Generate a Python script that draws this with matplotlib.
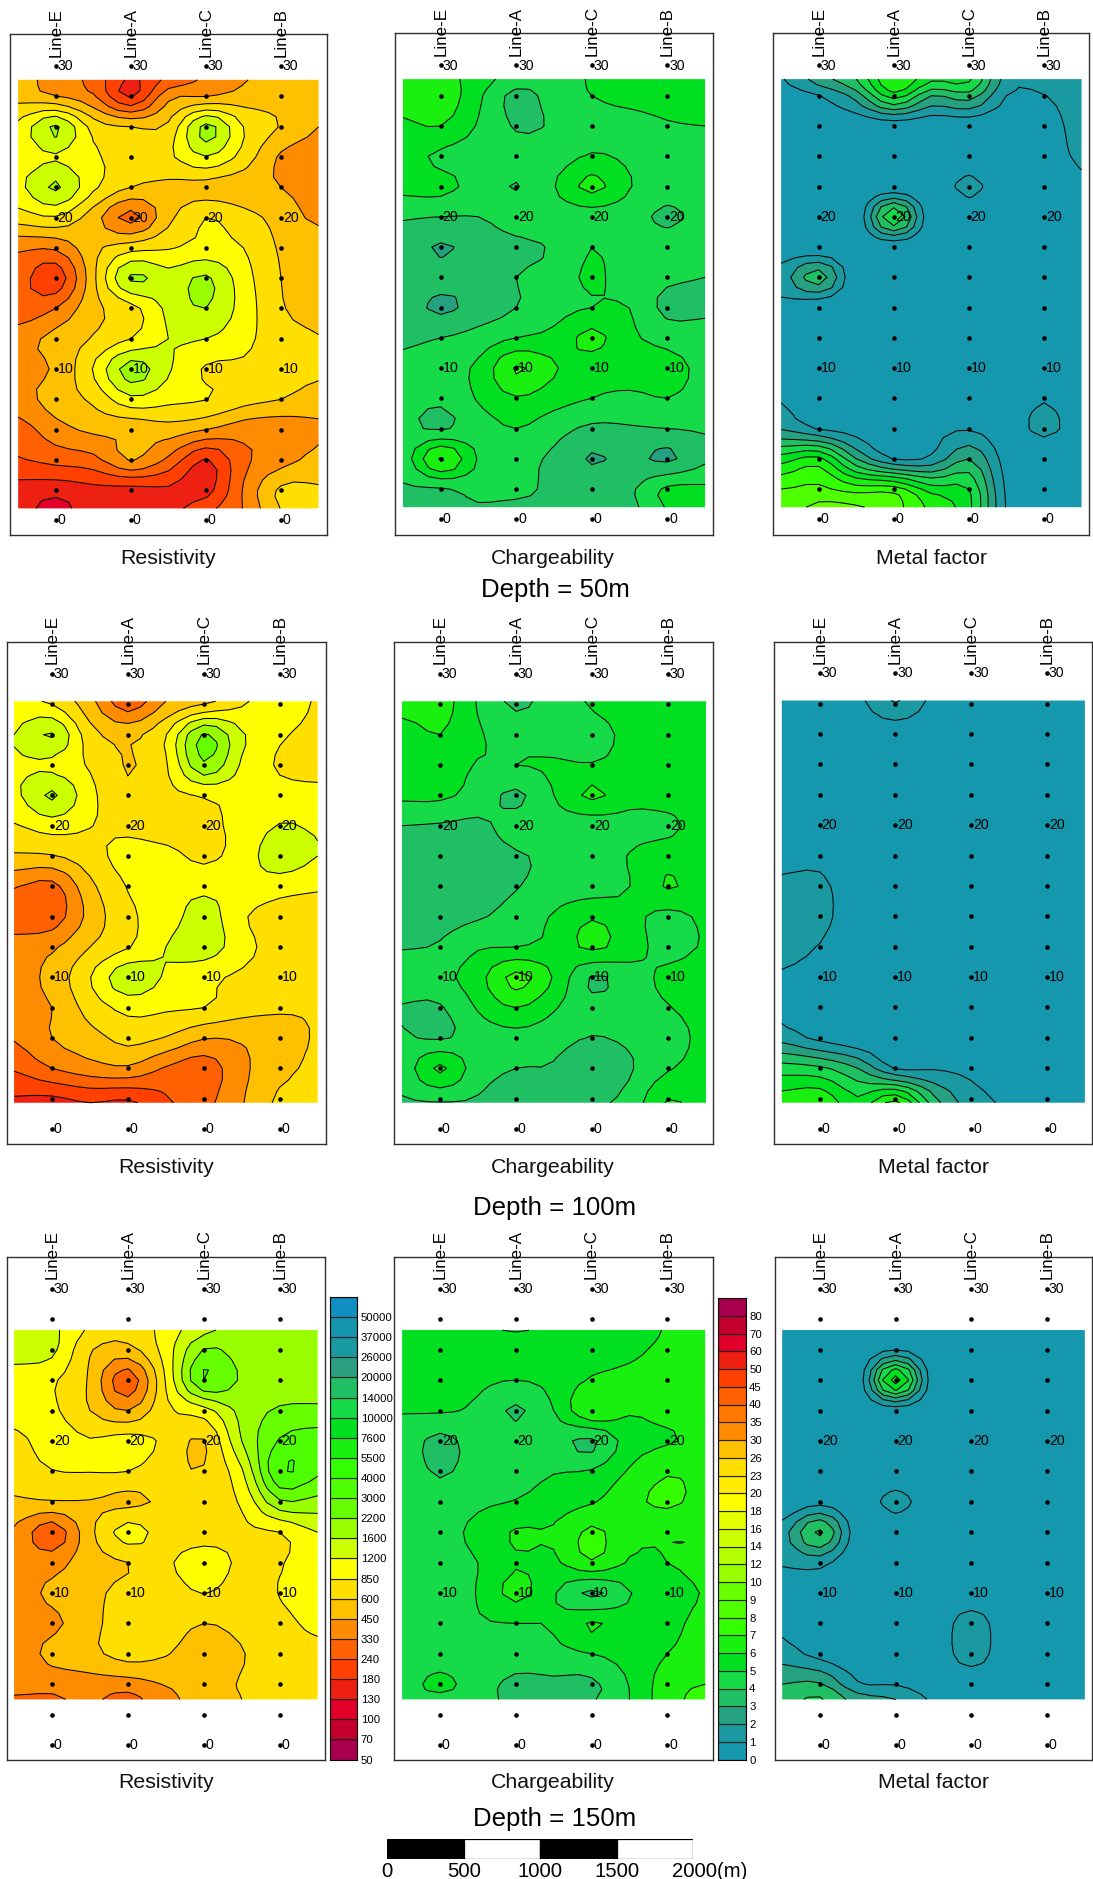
#! /usr/bin/env python3
import numpy as np
import matplotlib
matplotlib.use('Agg')
import matplotlib.pyplot as plt

plt.rcParams['font.family'] = ['Liberation Sans', 'DejaVu Sans']

W, H = 1093, 1879

lines = ['Line-E', 'Line-A', 'Line-C', 'Line-B']
grid_x = [-0.5, 0, 0.5, 1, 1.5, 2, 2.5, 3, 3.5]
stations = list(range(0, 31, 2))

rows_50 = [29.1, 28, 26, 24, 22, 20, 18, 16, 14, 12, 10, 8, 6, 4, 2, 0.8]
rows_100 = [28.2, 26, 24, 22, 20, 18, 16, 14, 12, 10, 8, 6, 4, 1.73]
rows_150 = [27.3, 26, 24, 22, 20, 18, 16, 14, 12, 10, 8, 6, 4, 3]

res_levels = [50, 70, 100, 130, 180, 240, 330, 450, 600, 850, 1200, 1600, 2200, 3000,
              4000, 5500, 7600, 10000, 14000, 20000, 26000, 37000, 50000, 70000]
res_labels = res_levels[:-1]
res_colors = ['#A8004F', '#C4002F', '#E0002A', '#EE2012', '#FF4000', '#FF6000', '#FF8C00', '#FFC000',
              '#FFDF00', '#FFFF00', '#CCFF00', '#99FF00', '#66FF00', '#4DFF00', '#33FF00', '#1AF010',
              '#00DF20', '#16DA48', '#20BF64', '#2BA080', '#1A9AA0', '#1595AD', '#0F90C0']

chg_levels = [0, 1, 2, 3, 4, 5, 6, 7, 8, 9, 10, 12, 14, 16, 18, 20, 23, 26, 30, 35, 40, 45,
              50, 60, 70, 80, 100]
chg_labels = chg_levels[:-1]
chg_colors = ['#1598AE', '#1A9AA0', '#25A080', '#20BF64', '#16DA48', '#00DF20', '#1AF010', '#33FF00',
              '#4DFF00', '#66FF00', '#99FF00', '#B3FF00', '#CCFF00', '#E6FF00', '#FFFF00', '#FFEC00',
              '#FFDF00', '#FFC000', '#FF8C00', '#FF7800', '#FF6000', '#FF4000', '#EE2012', '#E0002A',
              '#C4002F', '#A8004F']

res_50 = [
    [500, 400, 300, 170, 270, 350, 440, 520, 520],
    [550, 460, 350, 175, 420, 450, 520, 540, 520],
    [950, 1700, 750, 600, 650, 1800, 850, 590, 450],
    [1000, 1150, 900, 750, 800, 1180, 750, 430, 400],
    [1100, 1700, 920, 600, 560, 540, 500, 450, 400],
    [720, 820, 520, 300, 560, 850, 700, 540, 420],
    [350, 350, 560, 750, 830, 950, 850, 580, 560],
    [280, 200, 560, 1700, 1350, 1700, 1000, 600, 520],
    [270, 330, 560, 750, 1300, 1600, 1050, 620, 560],
    [400, 500, 620, 850, 1200, 1200, 950, 700, 610],
    [420, 470, 870, 1900, 1250, 820, 800, 720, 650],
    [400, 520, 650, 1100, 950, 860, 700, 600, 530],
    [290, 400, 480, 480, 530, 450, 380, 370, 430],
    [235, 270, 300, 460, 310, 175, 310, 400, 500],
    [160, 150, 165, 160, 170, 160, 340, 650, 630],
    [150, 120, 160, 170, 165, 220, 335, 610, 630],
]
chg_50 = [
    [6.5, 6.4, 5.5, 4.5, 4.5, 5.1, 5.3, 5.4, 5.4],
    [6.5, 6.7, 5.2, 3.7, 4.4, 5.0, 5.3, 5.4, 5.4],
    [5.8, 6.0, 4.9, 3.9, 4.1, 4.5, 4.6, 4.9, 5.0],
    [5.4, 4.8, 4.5, 4.4, 4.5, 5.1, 4.8, 4.5, 4.6],
    [5.3, 5.3, 4.6, 3.95, 4.95, 6.3, 5.05, 4.5, 4.5],
    [4.1, 4.0, 4.0, 4.4, 4.4, 4.5, 4.4, 3.8, 4.4],
    [3.5, 2.9, 3.4, 3.8, 4.1, 4.99, 4.5, 4.5, 4.5],
    [3.5, 3.4, 3.4, 4.0, 4.3, 5.2, 4.4, 4.2, 4.0],
    [3.5, 2.8, 3.4, 4.0, 4.6, 5.0, 4.99, 3.7, 3.8],
    [3.8, 4.0, 4.4, 5.0, 5.3, 6.3, 5.2, 4.7, 4.5],
    [4.3, 4.6, 5.2, 7.1, 6.1, 5.4, 5.4, 5.3, 4.8],
    [4.4, 4.2, 5.1, 5.9, 5.4, 5.0, 4.8, 5.0, 4.6],
    [4.2, 3.9, 4.5, 5.0, 4.4, 3.8, 3.9, 4.0, 4.1],
    [4.4, 7.1, 4.9, 4.4, 3.8, 2.9, 3.3, 2.8, 3.8],
    [3.9, 3.9, 4.4, 4.4, 3.7, 3.7, 3.8, 5.2, 5.2],
    [3.8, 3.7, 3.9, 3.7, 3.7, 3.7, 3.7, 5.1, 5.4],
]
met_50 = [
    [0.9, 2.5, 4, 7, 5.2, 5.2, 1.5, 1.2, 1.2],
    [0.5, 0.95, 2.4, 5.5, 3, 3.5, 1, 0.98, 1.3],
    [0.2, 0.2, 0.2, 0.2, 0.2, 0.2, 0.2, 0.6, 1.3],
    [0.2, 0.2, 0.2, 0.2, 0.2, 0.2, 0.2, 0.4, 1.2],
    [0.2, 0.2, 0.2, 0.0, 0.2, 1.3, 0.2, 0.2, 0.7],
    [0.2, 0.2, 0.0, 5.0, 0.0, 0.2, 0.2, 0.2, 0.2],
    [0.4, 0.0, 0.2, 0.0, 0.2, 0.2, 0.2, 0.2, 0.2],
    [1.4, 3.6, 0.0, 0.2, 0.2, 0.2, 0.2, 0.2, 0.2],
    [0.7, 0.0, 0.2, 0.2, 0.2, 0.2, 0.2, 0.2, 0.2],
    [0.2, 0.2, 0.2, 0.2, 0.2, 0.2, 0.2, 0.2, 0.2],
    [0.2, 0.2, 0.2, 0.2, 0.2, 0.2, 0.2, 0.0, 0.2],
    [0.9, 0.3, 0.2, 0.2, 0.2, 0.2, 0.2, 0.9, 0.2],
    [1.9, 0.9, 0.5, 0.3, 0.7, 0.9, 0.4, 1.3, 0.4],
    [5.5, 6.3, 3, 0.95, 1.2, 3, 0.5, 0, 0.2],
    [8, 8.2, 7.5, 7.5, 5.5, 5, 0.8, 0, 0.1],
    [8.5, 9.2, 9.1, 8.4, 6.7, 5.3, 0.9, 0, 0.1],
]

res_100 = [
    [950, 800, 500, 270, 450, 550, 800, 1050, 820],
    [1200, 1650, 700, 560, 840, 2300, 1250, 900, 790],
    [1150, 1100, 820, 590, 820, 2100, 1150, 820, 720],
    [1100, 1700, 950, 640, 780, 880, 1000, 1000, 1000],
    [830, 1000, 860, 780, 730, 790, 950, 1220, 1150],
    [580, 590, 750, 980, 950, 800, 1000, 1450, 1200],
    [340, 300, 560, 870, 1050, 1100, 1100, 1000, 900],
    [270, 280, 500, 800, 1000, 1400, 900, 720, 720],
    [390, 430, 600, 830, 1200, 1400, 1000, 720, 720],
    [400, 500, 840, 1500, 1150, 950, 800, 720, 720],
    [400, 450, 700, 950, 900, 850, 700, 630, 620],
    [340, 450, 540, 680, 590, 460, 470, 540, 620],
    [250, 330, 400, 430, 320, 280, 420, 560, 640],
    [170, 160, 180, 170, 230, 300, 440, 650, 640],
]
chg_100 = [
    [6.5, 6.5, 4.9, 3.8, 4.5, 5.1, 5.4, 5.5, 5.4],
    [5.5, 6.0, 5.1, 4.6, 4.6, 4.7, 5.2, 5.4, 5.4],
    [5.4, 5.4, 4.95, 5.0, 5.1, 5.05, 5.3, 5.4, 5.4],
    [5.2, 5.2, 4.6, 3.8, 5.0, 6.2, 5.3, 5.4, 5.4],
    [4.0, 3.9, 3.8, 4.4, 4.5, 4.4, 4.7, 4.8, 5.4],
    [3.6, 3.6, 3.6, 3.9, 4.2, 4.5, 5.05, 5.5, 5.4],
    [3.6, 3.6, 3.7, 3.95, 4.4, 4.5, 5.0, 6.1, 5.4],
    [3.6, 3.7, 3.9, 4.4, 5.1, 5.9, 5.3, 4.7, 5.2],
    [3.95, 4.1, 4.9, 5.0, 5.3, 6.2, 5.4, 4.7, 5.1],
    [4.4, 4.7, 5.6, 7.3, 5.9, 3.9, 4.6, 5.2, 5.5],
    [3.95, 3.9, 5.1, 6.0, 5.1, 4.3, 4.6, 4.95, 5.4],
    [4.1, 3.9, 4.4, 4.6, 4.4, 3.95, 4.2, 4.5, 5.3],
    [4.4, 6.2, 4.4, 4.0, 3.9, 3.0, 3.9, 4.9, 5.4],
    [3.9, 3.95, 3.9, 3.7, 3.7, 3.8, 4.4, 6.1, 5.4],
]
met_100 = [
    [0.2, 0.2, 0.7, 2.1, 0.7, 0.2, 0.2, 0.2, 0.2],
    [0.2, 0.2, 0.2, 0.3, 0.2, 0.2, 0.2, 0.2, 0.2],
    [0.2, 0.2, 0.2, 0.2, 0.2, 0.2, 0.2, 0.2, 0.2],
    [0.2, 0.2, 0.2, 0.2, 0.2, 0.2, 0.2, 0.2, 0.2],
    [0.2, 0.2, 0.2, 0.2, 0.2, 0.2, 0.2, 0.2, 0.2],
    [0.6, 0.6, 0.1, 0.2, 0.2, 0.2, 0.2, 0.2, 0.2],
    [1.2, 1.3, 0.1, 0.2, 0.2, 0.2, 0.2, 0.2, 0.2],
    [1.3, 1.4, 0.1, 0.2, 0.2, 0.2, 0.2, 0.2, 0.2],
    [1.3, 0.95, 0.1, 0.2, 0.2, 0.2, 0.2, 0.2, 0.2],
    [0.9, 0.6, 0.2, 0.2, 0.2, 0.2, 0.2, 0.2, 0.2],
    [0.7, 0.2, 0.2, 0.2, 0.2, 0.2, 0.2, 0.2, 0.2],
    [1.6, 0.7, 0.2, 0.2, 0.2, 0.2, 0.2, 0.2, 0.2],
    [4.5, 4.2, 3, 0.9, 0.9, 0.7, 0.3, 0.1, 0.1],
    [6.5, 6.9, 5.3, 7.3, 3.5, 1.5, 0.8, 0.1, 0.1],
]

res_150 = [
    [1350, 1300, 800, 660, 1000, 1500, 1800, 1950, 1900],
    [1350, 1300, 620, 550, 1000, 2250, 1950, 1950, 1900],
    [1050, 900, 580, 270, 880, 3000, 2100, 1900, 2100],
    [1000, 920, 600, 450, 800, 1050, 1800, 2300, 2300],
    [780, 1000, 880, 1000, 800, 590, 1600, 3100, 3600],
    [700, 840, 860, 850, 700, 620, 1150, 3950, 3200],
    [580, 590, 590, 560, 650, 700, 900, 2100, 2000],
    [430, 270, 560, 1000, 720, 720, 800, 850, 1200],
    [420, 400, 540, 600, 800, 1050, 800, 840, 950],
    [400, 480, 560, 680, 720, 860, 740, 860, 950],
    [400, 420, 560, 700, 720, 600, 680, 800, 900],
    [360, 500, 560, 700, 620, 510, 590, 760, 800],
    [370, 370, 400, 400, 460, 530, 620, 740, 760],
    [320, 320, 350, 300, 420, 500, 600, 720, 720],
]
chg_150 = [
    [5.3, 5.3, 5.3, 4.9, 5.3, 5.3, 5.4, 6.1, 6.3],
    [5.4, 5.4, 5.4, 5.9, 5.4, 5.5, 5.8, 6.2, 6.3],
    [5.4, 5.3, 5.2, 5.0, 5.3, 6.1, 6.2, 6.3, 6.3],
    [5.05, 5.1, 4.8, 3.85, 5.0, 6.9, 6.1, 6.3, 6.4],
    [4.6, 3.7, 4.5, 4.6, 4.4, 3.8, 5.5, 5.9, 6.2],
    [4.5, 3.9, 4.4, 4.6, 4.95, 5.1, 6.1, 6.9, 6.7],
    [4.5, 4.4, 4.8, 5.05, 5.5, 5.9, 6.7, 7.2, 6.6],
    [4.5, 4.6, 5.3, 6.1, 6.1, 7.2, 6.3, 6.1, 6.0],
    [4.5, 4.6, 5.0, 5.9, 5.8, 6.9, 5.9, 6.0, 6.2],
    [4.4, 4.5, 5.05, 6.3, 5.1, 3.8, 4.95, 5.6, 6.05],
    [4.4, 4.5, 4.9, 5.0, 5.1, 6.1, 5.5, 5.8, 6.2],
    [4.5, 4.4, 4.5, 4.5, 4.7, 5.0, 5.4, 6.0, 6.3],
    [4.5, 5.3, 4.4, 3.8, 3.8, 3.8, 5.05, 6.5, 7.0],
    [4.6, 4.7, 4.3, 3.8, 3.8, 3.9, 5.0, 6.6, 7.3],
]
met_150 = [
    [0.2, 0.2, 0.2, 0.4, 0.2, 0.2, 0.2, 0.2, 0.2],
    [0.2, 0.2, 0.2, 0.95, 0.2, 0.2, 0.2, 0.2, 0.2],
    [0.2, 0.2, 0.1, 6.5, 0.1, 0.2, 0.2, 0.2, 0.2],
    [0.2, 0.2, 0.2, 0.2, 0.2, 0.2, 0.2, 0.2, 0.2],
    [0.2, 0.2, 0.2, 0.0, 0.2, 0.2, 0.2, 0.2, 0.2],
    [0.2, 0.2, 0.2, 0.0, 0.2, 0.2, 0.2, 0.2, 0.2],
    [0.1, 0.6, 0.2, 1.4, 0.2, 0.2, 0.2, 0.2, 0.2],
    [1.5, 4.2, 0.2, 0.0, 0.2, 0.2, 0.2, 0.2, 0.2],
    [1.1, 1.3, 0.1, 0.2, 0.2, 0.2, 0.2, 0.2, 0.2],
    [0.4, 0.3, 0.2, 0.2, 0.2, 0.0, 0.2, 0.2, 0.2],
    [0.7, 0.2, 0.2, 0.2, 0.0, 1.7, 0.0, 0.2, 0.2],
    [1.5, 0.6, 0.2, 0.2, 0.0, 1.7, 0.0, 0.2, 0.2],
    [3.0, 3.1, 1.1, 0.95, 0.3, 0.0, 0.2, 0.2, 0.2],
    [3.6, 4.1, 2.5, 2.0, 0.8, 0.2, 0.2, 0.2, 0.2],
]

# frame l,t,r,b then station px: x of first and last line, y of station 30 and 0
panels = [
    (res_50, rows_50, 'res', 'Resistivity', (10, 34.4, 326.7, 535), (55.7, 281, 66.2, 520.5), 168, 558),
    (chg_50, rows_50, 'chg', 'Chargeability', (395, 33.4, 712.7, 534.5), (440.7, 667.3, 65.5, 519.3), 553, 558),
    (met_50, rows_50, 'chg', 'Metal factor', (773.3, 33.4, 1089.3, 534.5), (818.7, 1044, 65.5, 519.3), 932, 558),
    (res_100, rows_100, 'res', 'Resistivity', (6.7, 642, 325.7, 1144.2), (52, 279.7, 674, 1129), 166, 1167.6),
    (chg_100, rows_100, 'chg', 'Chargeability', (394.3, 642, 713.3, 1144.2), (440, 668, 674, 1129), 553, 1167.6),
    (met_100, rows_100, 'chg', 'Metal factor', (774, 642, 1092, 1144.2), (819.7, 1047, 673.2, 1129), 933, 1167.6),
    (res_150, rows_150, 'res', 'Resistivity', (6.7, 1257, 325, 1759.6), (52, 279.7, 1289, 1745), 166, 1782.6),
    (chg_150, rows_150, 'chg', 'Chargeability', (394.3, 1257, 713, 1759.6), (440, 667.3, 1289, 1745), 553, 1782.6),
    (met_150, rows_150, 'chg', 'Metal factor', (774.7, 1257, 1092, 1759.6), (820, 1047, 1289, 1745), 934, 1782.6),
]
schemes = {'res': (res_levels, res_colors), 'chg': (chg_levels, chg_colors)}


def refine(z, k, axis):
    # Catmull-Rom between grid nodes, so the contours round off like the gridder's
    z = np.moveaxis(z, axis, 0)
    p = np.concatenate([z[:1], z, z[-1:]])
    out = []
    for i in range(1, len(p) - 2):
        for t in np.arange(k) / k:
            out.append(0.5 * (2 * p[i] + (p[i + 1] - p[i - 1]) * t
                              + (2 * p[i - 1] - 5 * p[i] + 4 * p[i + 1] - p[i + 2]) * t ** 2
                              + (3 * p[i] - p[i - 1] - 3 * p[i + 1] + p[i + 2]) * t ** 3))
    out.append(p[-2])
    return np.moveaxis(np.array(out), 0, axis)


def add_axes(fig, l, t, r, b):
    return fig.add_axes([l / W, 1 - b / H, (r - l) / W, (b - t) / H])


def draw_panel(fig, values, rows, scheme, title, frame, px, tx, ty):
    l, t, r, b = frame
    x0, x3, y30, y0 = px
    dx = (x3 - x0) / 3
    dy = (y0 - y30) / 30
    ax = add_axes(fig, l, t, r, b)
    ax.set_xlim((l - x0) / dx, (r - x0) / dx)
    ax.set_ylim((y0 - b) / dy, (y0 - t) / dy)
    ax.set_xticks([])
    ax.set_yticks([])
    for s in ax.spines.values():
        s.set_linewidth(1.0)
        s.set_color('#303030')

    levels, colors = schemes[scheme]
    idx = np.arange(len(levels))
    z = np.interp(np.array(values, dtype=float)[::-1], levels, idx)
    y = np.array(rows[::-1], dtype=float)
    k = 3
    z = refine(refine(z, k, 0), k, 1)
    z = np.clip(z, 0, len(levels) - 1)
    fy = np.interp(np.arange(z.shape[0]) / k, np.arange(len(y)), y)
    fx = np.interp(np.arange(z.shape[1]) / k, np.arange(len(grid_x)), grid_x)
    ax.contourf(fx, fy, z, levels=idx, colors=colors, antialiased=True)
    ax.contour(fx, fy, z, levels=idx[1:-1], colors='black', linewidths=0.75)

    sx, sy = np.meshgrid(range(4), stations)
    ax.scatter(sx.ravel(), sy.ravel(), s=11, c='black', linewidths=0, zorder=5)
    for i, name in enumerate(lines):
        ax.text(i, 30 + 9.6 / dy, name, rotation=90, ha='center', va='bottom',
                fontsize=12.2, clip_on=False, zorder=6)
        for st in (0, 10, 20, 30):
            ax.text(i + 1.8 / dx, st, str(st), ha='left', va='center', fontsize=10.2, zorder=6)
    fig.text(tx / W, 1 - ty / H, title, ha='center', va='center', fontsize=15.3, color='#111111')


def draw_colorbar(fig, frame, levels, colors, labels):
    ax = add_axes(fig, *frame)
    pos = np.arange(len(colors))
    ax.barh(pos, 1, height=1, align='edge', color=colors, edgecolor='#202020', linewidth=0.8)
    ax.set_xlim(0, 1)
    ax.set_ylim(0, len(colors))
    ax.set_xticks([])
    ax.yaxis.tick_right()
    ax.set_yticks(pos)
    ax.set_yticklabels([str(v) for v in labels], fontsize=8.2)
    ax.tick_params(axis='y', length=0, pad=2.5)
    for s in ax.spines.values():
        s.set_linewidth(0.8)


fig = plt.figure(figsize=(W / 100, H / 100), dpi=100)

for p in panels:
    draw_panel(fig, *p)

draw_colorbar(fig, (330, 1297, 357.3, 1759.5), res_levels, res_colors, res_labels)
draw_colorbar(fig, (718.3, 1298, 745.7, 1759.5), chg_levels, chg_colors, chg_labels)

for txt, y in (('Depth = 50m', 590), ('Depth = 100m', 1208), ('Depth = 150m', 1819)):
    fig.text(555 / W, 1 - y / H, txt, ha='center', va='center', fontsize=18.6)

# scale bar
scale_ticks = [0, 500, 1000, 1500, 2000]
scale_fill = ['black', 'white', 'black', 'white']
ax = add_axes(fig, 387.3, 1839.3, 693.3, 1859.3)
ax.bar(scale_ticks[:-1], 1, width=500, align='edge', color=scale_fill, edgecolor='black', linewidth=0.9)
ax.set_xlim(0, 2000)
ax.set_ylim(0, 1)
ax.axis('off')
for v in scale_ticks:
    lab = '2000(m)' if v == 2000 else str(v)
    xp = 387.3 + v * 306 / 2000 + (16 if v == 2000 else 0)
    fig.text(xp / W, 1 - 1877 / H, lab, ha='center', va='baseline', fontsize=14.6)

fig.savefig('out.png', dpi=100)
